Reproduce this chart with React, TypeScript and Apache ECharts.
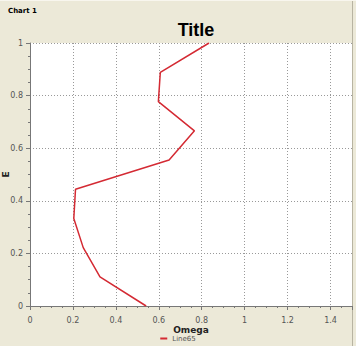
import React, { useEffect, useRef } from "react";
import * as echarts from "echarts";

const omega = [0.541, 0.326, 0.248, 0.204, 0.212, 0.648, 0.766, 0.598, 0.607, 0.834];
const eValues = [0, 0.111, 0.222, 0.333, 0.444, 0.555, 0.666, 0.777, 0.888, 1.0];
const seriesName = "Line65";

export default function App() {
  const ref = useRef<HTMLDivElement>(null);
  useEffect(() => {
    document.body.style.margin = "0";
    const chart = echarts.init(ref.current!, null, { renderer: "svg" });
    const font = "Tahoma, 'DejaVu Sans', sans-serif";
    chart.setOption({
      animation: false,
      backgroundColor: "#ECE9D8",
      textStyle: { fontFamily: font },
      title: {
        text: "Title",
        left: 191,
        textAlign: "center",
        top: 16,
        textStyle: { fontSize: 18, fontWeight: "bold", color: "#000", fontFamily: "'Liberation Sans', Arial, sans-serif" },
      },
      graphic: [
        {
          type: "text",
          left: 8,
          top: 7,
          style: { text: "Chart 1", font: "bold 7px 'DejaVu Sans', sans-serif", fill: "#000" },
        },
        {
          type: "line",
          shape: { x1: 352.5, y1: 0, x2: 352.5, y2: 346 },
          style: { stroke: "#b8b4a2", lineWidth: 1 },
        },
        {
          type: "line",
          shape: { x1: 0, y1: 0.5, x2: 356, y2: 0.5 },
          style: { stroke: "#f8f6ee", lineWidth: 1 },
        },
      ],
      legend: {
        bottom: -1,
        left: "center",
        itemWidth: 7,
        itemHeight: 2,
        itemGap: 4,
        icon: "rect",
        textStyle: { fontSize: 7, color: "#555", fontFamily: font },
        data: [seriesName],
      },
      grid: {
        left: 30,
        right: 4,
        top: 43,
        bottom: 40,
        show: true,
        backgroundColor: "#fff",
        borderWidth: 0,
        containLabel: false,
        outerBoundsMode: "none",
      },
      xAxis: {
        type: "value",
        min: 0,
        max: 1.5,
        interval: 0.2,
        offset: 6,
        name: "Omega",
        nameLocation: "middle",
        nameGap: 13,
        nameMoveOverlap: false,
        nameTextStyle: { fontSize: 9, fontWeight: "bold", color: "#222", fontFamily: font },
        axisLine: { show: true, lineStyle: { color: "#777" } },
        axisTick: { show: true, length: 4, lineStyle: { color: "#777" } },
        minorTick: { show: true, splitNumber: 4, length: 2, lineStyle: { color: "#777" } },
        axisLabel: { fontSize: 8, color: "#555", margin: 4, showMaxLabel: false },
        splitLine: { show: true, showMaxLine: false, lineStyle: { color: "#999", type: [1, 2], width: 1 } },
      },
      yAxis: {
        type: "value",
        min: 0,
        max: 1,
        interval: 0.2,
        offset: 3,
        name: "E",
        nameLocation: "middle",
        nameRotate: 90,
        nameGap: 17,
        nameMoveOverlap: false,
        nameTextStyle: { fontSize: 9, fontWeight: "bold", color: "#222", fontFamily: font },
        axisLine: { show: true, lineStyle: { color: "#777" } },
        axisTick: { show: true, length: 4, lineStyle: { color: "#777" } },
        minorTick: { show: true, splitNumber: 4, length: 2, lineStyle: { color: "#777" } },
        axisLabel: { fontSize: 8, color: "#555", margin: 4 },
        splitLine: { show: true, lineStyle: { color: "#999", type: [1, 2], width: 1 } },
      },
      series: [
        {
          name: seriesName,
          type: "line",
          data: omega.map((x, i) => [x, eValues[i]]),
          showSymbol: false,
          symbol: "none",
          lineStyle: { color: "#d42a33", width: 1.5 },
          itemStyle: { color: "#d42a33" },
        },
      ],
    });
    return () => chart.dispose();
  }, []);
  return <div ref={ref} style={{ width: 356, height: 346 }} />;
}
